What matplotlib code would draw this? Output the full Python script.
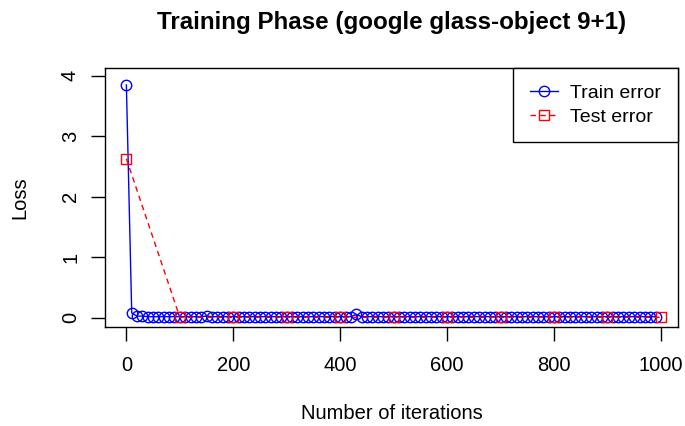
import matplotlib
matplotlib.use("Agg")
import matplotlib.pyplot as plt
import numpy as np

plt.rcParams['font.family'] = ['Liberation Sans', 'DejaVu Sans']

train_iter = list(range(0, 1000, 10))
train_loss = [3.85, 0.08, 0.03, 0.03, 0.02, 0.02, 0.02, 0.02, 0.02, 0.02,
              0.02, 0.02, 0.02, 0.02, 0.02, 0.03, 0.02, 0.02, 0.02, 0.02,
              0.02, 0.02, 0.02, 0.02, 0.02, 0.02, 0.02, 0.02, 0.02, 0.02,
              0.02, 0.02, 0.02, 0.02, 0.02, 0.02, 0.02, 0.02, 0.02, 0.02,
              0.02, 0.02, 0.02, 0.06, 0.02, 0.02, 0.02, 0.02, 0.02, 0.02,
              0.02, 0.02, 0.02, 0.02, 0.02, 0.02, 0.02, 0.02, 0.02, 0.02,
              0.02, 0.02, 0.02, 0.02, 0.02, 0.02, 0.02, 0.02, 0.02, 0.02,
              0.02, 0.02, 0.02, 0.02, 0.02, 0.02, 0.02, 0.02, 0.02, 0.02,
              0.02, 0.02, 0.02, 0.02, 0.02, 0.02, 0.02, 0.02, 0.02, 0.02,
              0.02, 0.02, 0.02, 0.02, 0.02, 0.02, 0.02, 0.02, 0.02, 0.02]
test_iter = list(range(0, 1001, 100))
test_loss = [2.63, 0.01, 0.01, 0.01, 0.01, 0.01, 0.01, 0.01, 0.01, 0.01, 0.01]
x_ticks = [0, 200, 400, 600, 800, 1000]
y_ticks = [0, 1, 2, 3, 4]

fig = plt.figure(figsize=(6.85, 4.26), dpi=100)
ax = fig.add_axes([105/685, 1-327/426, (678-105)/685, (327-68)/426])

ax.plot(train_iter, train_loss, color='blue', lw=1, marker='o', ms=7.5,
        mfc='none', mec='blue', mew=1, label='Train error')
ax.plot(test_iter, test_loss, color='red', lw=1, ls=(0, (4, 3)), marker='s', ms=7,
        mfc='none', mec='red', mew=1, label='Test error')

ax.set_xlim(-40, 1032)
ax.set_ylim(-0.15, 4.13)
ax.set_xticks(x_ticks)
ax.set_yticks(y_ticks)
ax.set_xticklabels([str(v) for v in x_ticks], fontsize=14.5)
ax.set_yticklabels([str(v) for v in y_ticks], fontsize=14.5, rotation=90, va='center')
ax.tick_params(direction='out', length=10, width=1, pad=11)
ax.tick_params(axis='y', pad=8)
for s in ax.spines.values():
    s.set_linewidth(1)

ax.set_xlabel('Number of iterations', fontsize=14.5, labelpad=21)
ax.set_ylabel('Loss', fontsize=14.5, labelpad=23)
ax.set_title('Training Phase (google glass-object 9+1)', fontsize=17.4, fontweight='bold', pad=28)

leg = ax.legend(loc='upper right', fontsize=14, frameon=True, fancybox=False,
                borderaxespad=0, handlelength=1.45, edgecolor='black',
                framealpha=1, borderpad=0.85, handletextpad=0.65, labelspacing=0.3)
leg.get_frame().set_linewidth(1)

fig.savefig('out.png', dpi=100)
